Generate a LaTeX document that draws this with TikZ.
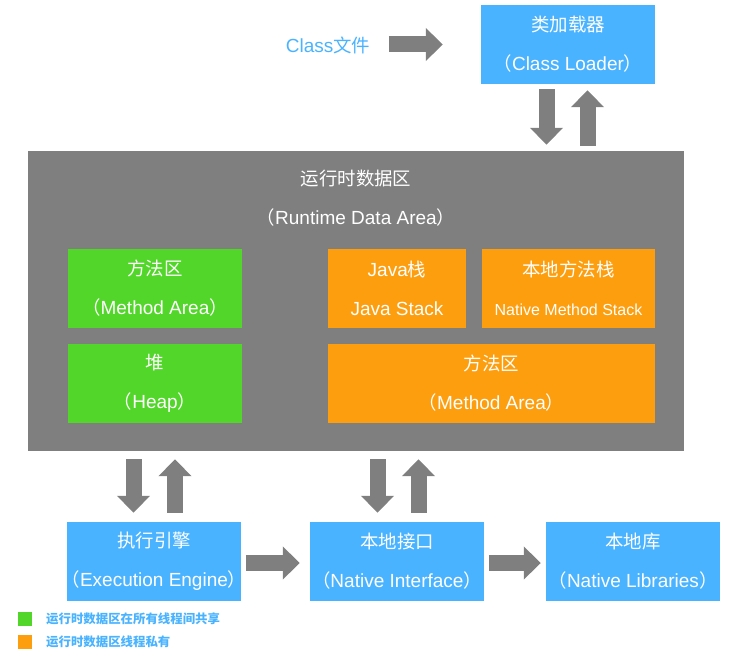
\documentclass[tikz,border=0pt]{standalone}
\usepackage{fontspec}
\setmainfont{Liberation Sans}
\newfontfamily\cjk{Noto Sans CJK SC}[Scale=0.97]
\usetikzlibrary{calc,arrows.meta}

\definecolor{boxblue}{HTML}{4AB3FF}
\definecolor{boxgreen}{HTML}{52D62A}
\definecolor{boxorange}{HTML}{FD9E0F}
\definecolor{areagray}{HTML}{7F7F7F}

\newcommand{\zh}[1]{{\cjk #1}}
\newcommand{\lp}{\makebox[9pt][r]{\cjk （}}
\newcommand{\rp}{\makebox[9pt][l]{\cjk ）}}

\begin{document}
\begin{tikzpicture}[x=1pt, y=-1pt,
  box/.style={inner sep=0pt, minimum height=79pt, text=white, align=center,
    font=\fontsize{19pt}{39pt}\selectfont},
  blk/.style={draw=areagray, line width=16pt, -{Triangle[width=32pt,length=17pt]}}]
\useasboundingbox (0,0) rectangle (730,660);
% class file and loader
\node[text=boxblue, font=\fontsize{19pt}{20pt}\selectfont] (cfile) at (328,45) {Class\zh{文件}};
\node[box, fill=boxblue, minimum width=174pt] (loader) at (568,44.5) {\zh{类加载器}\\\lp Class Loader\rp};
% runtime data area
\node[fill=areagray, minimum width=656pt, minimum height=300pt, inner sep=0pt] (rtda) at (356,301) {};
\node[box, minimum height=0pt] (rtitle) at (356,198.5) {\zh{运行时数据区}\\\lp Runtime Data Area\rp};
\node[box, fill=boxgreen, minimum width=174pt] (methodg) at (155,288.5) {\zh{方法区}\\\lp Method Area\rp};
\node[box, fill=boxgreen, minimum width=174pt] (heap) at (155,383) {\zh{堆}\\\lp Heap\rp};
\node[box, fill=boxorange, minimum width=138pt] (jstack) at (397,288.5) {Java\zh{栈}\\Java Stack};
\node[box, fill=boxorange, minimum width=173pt] (nmstack) at (568.5,288.5) {\zh{本地方法栈}\\{\fontsize{16pt}{39pt}\selectfont Native Method Stack}};
\node[box, fill=boxorange, minimum width=327pt] (methodo) at (491.5,383) {\zh{方法区}\\\lp Method Area\rp};
% engine and native side
\node[box, fill=boxblue, minimum width=174pt] (engine) at (154,561.5) {\zh{执行引擎}\\\lp Execution Engine\rp};
\node[box, fill=boxblue, minimum width=174pt] (nif) at (397,561.5) {\zh{本地接口}\\\lp Native Interface\rp};
\node[box, fill=boxblue, minimum width=174pt] (nlib) at (633,561.5) {\zh{本地库}\\\lp Native Libraries\rp};
% arrows
\draw[blk] ($(loader.west)+(-92,0)$) -- ($(loader.west)+(-38,0)$);
\draw[blk] ($(loader.south)+(-21.5,5)$) -- ($(loader.south |- rtda.north)+(-21.5,-6)$);
\draw[blk] ($(loader.south |- rtda.north)+(19.5,-5)$) -- ($(loader.south)+(19.5,6)$);
\draw[blk] ($(engine.north |- rtda.south)+(-20.5,8)$) -- ($(engine.north)+(-20.5,-9)$);
\draw[blk] ($(engine.north)+(21,-9)$) -- ($(engine.north |- rtda.south)+(21,8)$);
\draw[blk] ($(nif.north |- rtda.south)+(-19.5,8)$) -- ($(nif.north)+(-19.5,-9)$);
\draw[blk] ($(nif.north)+(21.5,-9)$) -- ($(nif.north |- rtda.south)+(21.5,8)$);
\draw[blk] ($(nif.west)+(-64,1.5)$) -- ($(nif.west)+(-10,1.5)$);
\draw[blk] ($(nlib.west)+(-57,1.5)$) -- ($(nlib.west)+(-5,1.5)$);
% legend
\node[fill=boxgreen, minimum size=14pt, inner sep=0pt] (keyg) at (25,619) {};
\node[fill=boxorange, minimum size=14pt, inner sep=0pt] (keyo) at (25,642) {};
\node[anchor=west, text=boxblue, font=\fontsize{12.8pt}{14pt}\selectfont\cjk\bfseries, inner sep=0pt] (textg) at (46,619) {运行时数据区在所有线程间共享};
\node[anchor=west, text=boxblue, font=\fontsize{12.8pt}{14pt}\selectfont\cjk\bfseries, inner sep=0pt] (texto) at (46,642) {运行时数据区线程私有};
\end{tikzpicture}
\end{document}
